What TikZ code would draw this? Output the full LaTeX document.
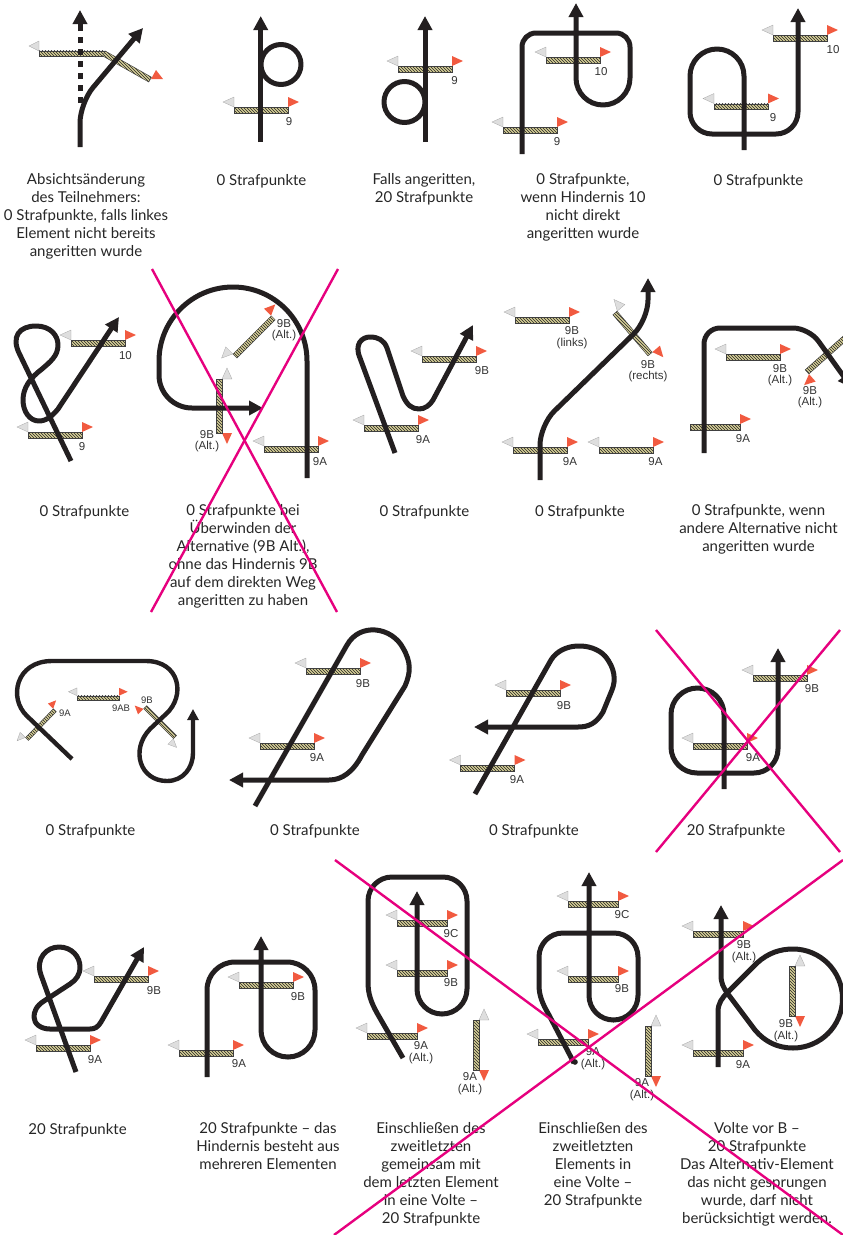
\documentclass[tikz,border=0pt]{standalone}
\usepackage{fontspec}
\setmainfont{Lato}
\newfontfamily\labfont{Liberation Sans}
\usetikzlibrary{arrows.meta,patterns}
\definecolor{inkblack}{RGB}{35,31,32}
\definecolor{crosspink}{RGB}{230,0,126}
\definecolor{flagred}{RGB}{241,90,64}
\definecolor{flagwhite}{RGB}{222,222,222}
\definecolor{planktan}{RGB}{214,206,150}
\tikzset{
  track/.style={line width=5pt,draw=inkblack,line join=round},
  arr/.style={-{Triangle[width=14pt,length=14pt]}},
  smallarr/.style={-{Triangle[width=11pt,length=11pt]}},
  crossline/.style={line width=2.4pt,draw=crosspink},
  plankbar/.style={draw=black!75,line width=0.5pt,preaction={fill=planktan},pattern=north west lines,pattern color=black!85},
  redflag/.style={fill=flagred},
  whiteflag/.style={fill=flagwhite,draw=gray!70,line width=0.3pt},
  lab/.style={font=\labfont\fontsize{11.5}{11.5}\selectfont,text=black!80,align=center,inner sep=0pt},
  smalllab/.style={lab,font=\labfont\fontsize{9.5}{9.5}\selectfont},
  captext/.style={font=\fontsize{15}{18}\selectfont,text=black!85,align=center,inner sep=0pt,anchor=north,execute at begin node=\strut}
}
\newcommand{\plank}[4]{\path[plankbar,shift={(#1,#2)},rotate=#4] (0,-2.75) rectangle (#3,2.75);}
\newcommand{\hurdle}[5][1]{%
  \begin{scope}[shift={(#2,#3)},rotate=#5,scale=#1]
    \path[whiteflag] (0,-13)--(-11,-8)--(0,-3)--cycle;
    \path[redflag] (#4,-13)--(#4+11,-8)--(#4,-3)--cycle;
    \path[plankbar] (0,-2.75) rectangle (#4,2.75);
  \end{scope}}
\begin{document}
\begin{tikzpicture}[x=1pt,y=-1pt]
  \useasboundingbox (0,0) rectangle (843,1235);

  % first row
  \plank{39}{53.5}{66}{0}
  \plank{104}{53.5}{53}{-29.5}
  \path[whiteflag] (39,41)--(29,46)--(39,51)--cycle;
  \path[redflag] (156,70)--(163,79)--(151,79)--cycle;
  \draw[track,dash pattern=on 6pt off 6pt] (80,103)--(80,25);
  \draw[track,arr] (80,26)--(80,10);
  \draw[track,arr,rounded corners=20pt] (80,147)--(80,103)--(143,28);
  \node[captext] (cap1) at (86,173) {Absichtsänderung\\des Teilnehmers:\\0 Strafpunkte, falls linkes\\Element nicht bereits\\angeritten wurde};

  \hurdle{234}{110}{54}{0}
  \draw[track] (281,64.5) circle (20);
  \draw[track,arr] (260.7,142)--(260.7,16);
  \node[lab] (lab2a) at (289,122) {9};
  \node[captext] (cap2) at (261.5,173) {0 Strafpunkte};

  \hurdle{398}{69}{54}{0}
  \draw[track] (404.5,102) circle (20.5);
  \draw[track,arr] (425,142)--(425,16);
  \node[lab] (lab3a) at (454.5,81) {9};
  \node[captext] (cap3) at (424,173) {Falls angeritten,\\20 Strafpunkte};

  \hurdle{546}{60}{54}{0}
  \hurdle{503}{130}{54}{0}
  \draw[track,arr] (522,154)--(522,47) arc (180:270:14)--(616,33) arc (270:360:14)--(630,78) arc (0:180:27)--(576,3);
  \node[lab] (lab4a) at (601,72) {10};
  \node[lab] (lab4b) at (557,142) {9};
  \node[captext] (cap4) at (583,173) {0 Strafpunkte,\\wenn Hindernis 10\\nicht direkt\\angeritten wurde};

  \hurdle{714}{106.5}{54}{0}
  \hurdle{773}{38}{54}{0}
  \draw[track,arr] (744,150)--(744,76) arc (0:-180:27)--(690,112) arc (180:90:22)--(776,134) arc (90:0:22)--(798,8);
  \node[lab] (lab5a) at (773,118) {9};
  \node[lab] (lab5b) at (833,50) {10};
  \node[captext] (cap5) at (758.5,173) {0 Strafpunkte};

  % second row
  \hurdle{71}{343}{54}{0}
  \hurdle{28}{435}{54}{0}
  \draw[track,arr] (71,461)--(20,355) .. controls (10,336) and (20,326) .. (36,326) .. controls (50,326) and (58,335) .. (58,345) .. controls (58,356) and (50,362) .. (42,369) .. controls (30,378) and (23,388) .. (23,400) .. controls (23,412) and (30,421) .. (39,421) .. controls (47,421) and (53,415) .. (58,409)--(119,317);
  \node[lab] (lab6a) at (125.5,356) {10};
  \node[lab] (lab6b) at (82,447) {9};
  \node[captext] (cap6) at (84.5,504) {0 Strafpunkte};

  \hurdle{264}{449}{54}{0}
  \hurdle{219}{379}{54}{-90}
  \hurdle{235}{356}{54}{45}
  \draw[track,arr] (307,478)--(307,361) arc (0:-180:74)--(159,375) arc (180:90:33)--(263,408);
  \node[lab] (lab7a) at (320,462) {9A};
  \node[lab] (lab7b) at (207,441) {9B\\(Alt.)};
  \node[lab] (lab7c) at (284,330) {9B\\(Alt.)};
  \node[captext] (cap7) at (243,504) {0 Strafpunkte bei\\Überwinden der\\Alternative (9B Alt.),\\ohne das Hindernis 9B\\auf dem direkten Weg\\angeritten zu haben};
  \draw[crossline] (152,269)--(337,612);
  \draw[crossline] (338,269)--(151,612);

  \hurdle{364}{428}{54}{0}
  \hurdle{422}{359}{54}{0}
  \draw[track,arr] (395,453)--(360,358) .. controls (354,344) and (362,337) .. (370,337) .. controls (378,337) and (384,340) .. (387,348)--(403,396) .. controls (407,405) and (412,409) .. (419,409) .. controls (425,409) and (430,405) .. (433,400)--(473,325);
  \node[lab] (lab8a) at (423,440) {9A};
  \node[lab] (lab8b) at (482,371) {9B};
  \node[captext] (cap8) at (424.5,504) {0 Strafpunkte};

  \hurdle{515}{320}{54}{0}
  \hurdle{513}{450}{54}{0}
  \hurdle{599}{450}{54}{0}
  \hurdle{615}{313}{54}{-49.5}
  \draw[track,arr,rounded corners=20pt] (540,480)--(540,425)--(648,320)--(648,278);
  \node[lab] (lab9a) at (572,337.5) {9B\\(links)};
  \node[lab] (lab9b) at (570,462) {9A};
  \node[lab] (lab9c) at (655.5,462) {9A};
  \node[lab] (lab9d) at (648,371) {9B\\(rechts)};
  \node[captext] (cap9) at (580,504) {0 Strafpunkte};

  \hurdle{726}{357}{54}{0}
  \plank{690}{427}{50}{0}
  \path[redflag] (740,414)--(751,419)--(740,424)--cycle;
  \hurdle{847.4}{336}{54}{221.6}
  \draw[track,arr,rounded corners=16pt] (704,453)--(704,328)--(809,328)--(852,388);
  \node[lab] (lab10a) at (780,375) {9B\\(Alt.)};
  \node[lab] (lab10b) at (743,439) {9A};
  \node[lab] (lab10c) at (810,397) {9B\\(Alt.)};
  \node[captext] (cap10) at (758.5,504) {0 Strafpunkte, wenn\\andere Alternative nicht\\angeritten wurde};

  % third row
  \hurdle[.78]{77}{698}{54}{0}
  \hurdle[.74]{27}{739}{54}{46}
  \hurdle[.78]{175}{737}{54}{135}
  \draw[track,smallarr,line width=4.4pt] (72,759)--(27,716) .. controls (8,698) and (16,661) .. (52,661)--(146,661) .. controls (180,661) and (186,696) .. (166,714)--(150,729) .. controls (130,750) and (140,781) .. (167,781) .. controls (183,781) and (193,768) .. (193,753)--(193,709);
  \node[smalllab] (lab11a) at (121,708) {9AB};
  \node[smalllab] (lab11b) at (147,700) {9B};
  \node[smalllab] (lab11c) at (65,713) {9A};
  \node[captext] (cap11) at (90.5,823) {0 Strafpunkte};

  \hurdle{306}{671}{54}{0}
  \hurdle{260}{746}{54}{0}
  \draw[track,arr] (255,806)--(347,645) .. controls (360,622) and (392,627) .. (403,648) .. controls (411,662) and (411,672) .. (405,686)--(362,755) .. controls (353,772) and (342,780) .. (329,780)--(229,780);
  \node[lab] (lab12a) at (363,684) {9B};
  \node[lab] (lab12b) at (317,758) {9A};
  \node[captext] (cap12) at (315,823) {0 Strafpunkte};

  \hurdle{506}{693}{54}{0}
  \hurdle{460.5}{768}{54}{0}
  \draw[track,arr] (475,794)--(551,660) .. controls (562,642) and (592,642) .. (605,656) .. controls (615,668) and (616,680) .. (612,690)--(603,712) .. controls (596,724) and (588,727) .. (578,727)--(474,727);
  \node[lab] (lab13a) at (564,706) {9B};
  \node[lab] (lab13b) at (517,780) {9A};
  \node[captext] (cap13) at (534,823) {0 Strafpunkte};

  \hurdle{693}{746}{54}{0}
  \hurdle{753}{678}{54}{0}
  \draw[track,arr] (724,789)--(724,714.5) arc (0:-180:26.5)--(671,747) arc (180:90:26)--(754,773) arc (90:0:24)--(778,648);
  \node[lab] (lab14a) at (753,758) {9A};
  \node[lab] (lab14b) at (812,689) {9B};
  \node[captext] (cap14) at (736,823) {20 Strafpunkte};
  \draw[crossline] (656,630)--(840,852);
  \draw[crossline] (840,630)--(656,852);

  % fourth row
  \hurdle{94}{979}{54}{0}
  \hurdle{36}{1048}{54}{0}
  \draw[track,arr] (76,1072)--(41,975) .. controls (35,958) and (47,947) .. (59,947) .. controls (72,947) and (80,957) .. (80,967) .. controls (80,975) and (76,980) .. (70,984)--(44,1001) .. controls (36,1006) and (34,1012) .. (34,1017) .. controls (34,1024) and (41,1029) .. (50,1029)--(90,1029) .. controls (95,1029) and (98,1027) .. (101,1022)--(144,947);
  \node[lab] (lab15a) at (154,991) {9B};
  \node[lab] (lab15b) at (95,1060) {9A};
  \node[captext] (cap15) at (77.5,1122) {20 Strafpunkte};

  \hurdle{239}{985}{54}{0}
  \hurdle{179}{1053}{54}{0}
  \draw[track,arr] (207,1077)--(207,990) arc (180:270:28)--(287,962) arc (270:360:28)--(315,1030) arc (0:180:27)--(261,936);
  \node[lab] (lab16a) at (298,997) {9B};
  \node[lab] (lab16b) at (239,1064) {9A};
  \node[captext] (cap16) at (268,1122) {20 Strafpunkte – das\\Hindernis besteht aus\\mehreren Elementen};

  \hurdle{397}{923}{50}{0}
  \hurdle{397}{973}{50}{0}
  \hurdle{367}{1036}{50}{0}
  \hurdle{476}{1020}{50}{-90}
  \draw[track,arr] (403,1058)--(377,1013) .. controls (371,1002) and (368,994) .. (368,982)--(368,901) arc (180:270:24)--(443,877) arc (270:360:24)--(467,989) arc (0:180:25)--(417,891);
  \node[lab] (lab17a) at (451,934) {9C};
  \node[lab] (lab17b) at (451,983) {9B};
  \node[lab] (lab17c) at (421,1052.5) {9A\\(Alt.)};
  \node[lab] (lab17d) at (470,1083.5) {9A\\(Alt.)};
  \node[captext] (cap17) at (431,1122) {Einschließen des\\zweitletzten\\gemeinsam mit\\dem letzten Element\\in eine Volte –\\20 Strafpunkte};

  \hurdle{568}{904}{50}{0}
  \hurdle{568}{979}{50}{0}
  \hurdle{538}{1042}{50}{0}
  \hurdle{648}{1026}{50}{-90}
  \draw[track,arr] (574,1063)--(549,1015) .. controls (542,1003) and (539,995) .. (539,985)--(539,957) arc (180:270:24)--(614,933) arc (270:360:24)--(638,995.5) arc (0:180:24.5)--(589,872);
  \fill[inkblack] (575,1062) circle (2.8);
  \node[lab] (lab18a) at (622,915) {9C};
  \node[lab] (lab18b) at (622,989) {9B};
  \node[lab] (lab18c) at (593,1058.5) {9A\\(Alt.)};
  \node[lab] (lab18d) at (642,1089.5) {9A\\(Alt.)};
  \node[captext] (cap18) at (593,1122) {Einschließen des\\zweitletzten\\Elements in\\eine Volte –\\20 Strafpunkte};

  \hurdle{693}{934}{50}{0}
  \hurdle{693}{1053}{50}{0}
  \hurdle{792}{966}{50}{-90}
  \draw[track,arr] (718,1067)--(718,1012) .. controls (718,1003) and (722,998) .. (728,992)--(757,963) .. controls (768,953) and (780,949) .. (793,949) arc (-90:90:49.5) .. controls (778,1048) and (765,1042) .. (755,1030)--(728,994) .. controls (723,987) and (721,983) .. (721,975)--(721,905);
  \node[lab] (lab19a) at (744,951.5) {9B\\(Alt.)};
  \node[lab] (lab19b) at (743,1065) {9A};
  \node[lab] (lab19c) at (786,1030.5) {9B\\(Alt.)};
  \node[captext] (cap19) at (757,1122) {Volte vor B –\\20 Strafpunkte\\Das Alternativ-Element\\das nicht gesprungen\\wurde, darf nicht\\berücksichtigt werden.};
  \draw[crossline] (335,860)--(843,1235);
  \draw[crossline] (843,860)--(334,1235);
\end{tikzpicture}
\end{document}
